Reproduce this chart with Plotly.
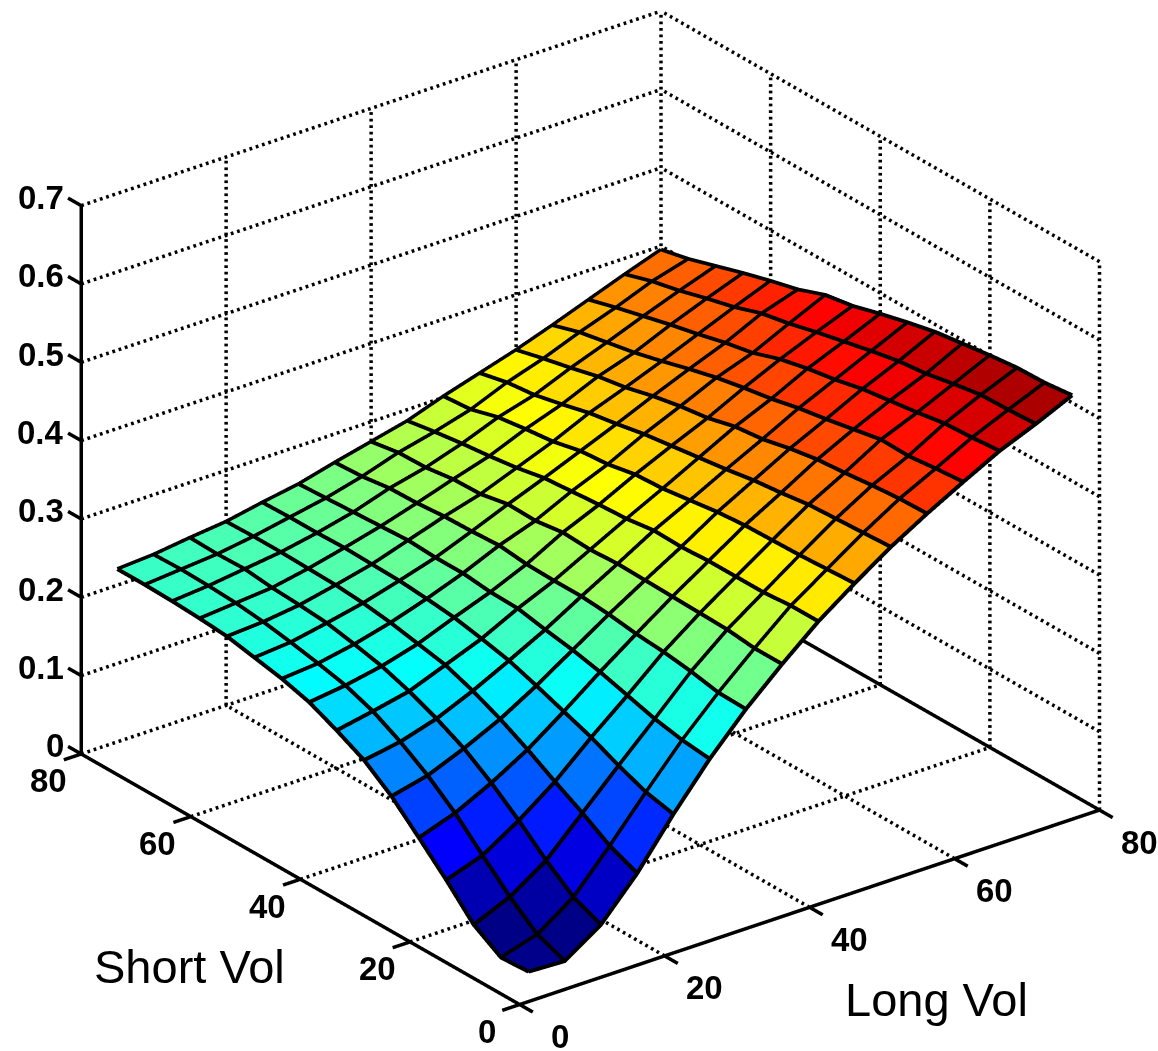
import plotly.graph_objects as go

long_vol = [5, 10, 15, 20, 25, 30, 35, 40, 45, 50, 55, 60, 65, 70, 75, 80]
short_vol = [5, 10, 15, 20, 25, 30, 35, 40, 45, 50, 55, 60, 65, 70, 75, 80]
# one row per Short Vol value, one column per Long Vol value
surface_z = [
    [.005, .003, .034, .084, .144, .199, .247, .289, .328, .361, .392, .419, .444, .468, .487, .508],
    [.003, .017, .049, .099, .152, .203, .248, .289, .328, .359, .390, .418, .441, .465, .485, .504],
    [.025, .045, .076, .121, .166, .210, .255, .293, .325, .357, .388, .415, .437, .463, .484, .503],
    [.062, .078, .107, .141, .182, .220, .260, .294, .325, .356, .386, .411, .438, .457, .478, .499],
    [.096, .112, .135, .162, .195, .230, .263, .295, .325, .355, .381, .408, .431, .452, .471, .494],
    [.129, .140, .159, .181, .208, .238, .268, .296, .323, .352, .377, .402, .424, .447, .467, .489],
    [.155, .163, .177, .197, .220, .244, .271, .297, .324, .347, .371, .394, .418, .439, .460, .481],
    [.173, .182, .192, .210, .228, .251, .271, .295, .319, .342, .366, .390, .410, .433, .452, .472],
    [.189, .195, .204, .217, .235, .252, .272, .297, .317, .340, .361, .381, .404, .425, .444, .462],
    [.199, .203, .212, .224, .239, .256, .276, .292, .314, .333, .356, .376, .397, .413, .435, .456],
    [.206, .210, .219, .229, .242, .256, .274, .293, .311, .330, .349, .369, .388, .406, .428, .443],
    [.213, .216, .222, .232, .243, .258, .273, .286, .304, .322, .343, .360, .378, .397, .416, .434],
    [.216, .220, .224, .233, .244, .256, .270, .285, .299, .318, .334, .354, .369, .389, .407, .424],
    [.218, .222, .228, .234, .243, .254, .269, .280, .295, .313, .326, .345, .362, .380, .397, .413],
    [.219, .223, .227, .234, .243, .252, .264, .279, .290, .303, .322, .337, .355, .371, .389, .402],
    [.219, .222, .228, .233, .242, .250, .262, .273, .284, .300, .314, .328, .344, .361, .378, .394],
]
xy_ticks = [0, 20, 40, 60, 80]
z_ticks = [0, 0.1, 0.2, 0.3, 0.4, 0.5, 0.6, 0.7]
x_title = "Long Vol"
y_title = "Short Vol"

XMAX, YMAX, ZMAX = 80, 80, 0.7
TICK = 2.4
X_RANGE = [-3, 82]
Y_RANGE = [-3, 83]
Z_RANGE = [-0.01, 0.71]
FONT = "Liberation Sans"
WIRE_LIFT = 0.0015


def jet(f):
    f = max(0.0, min(1.0, f))
    def band(c):
        return max(0.0, min(1.0, 1.5 - abs(4 * f - c)))
    return "rgb(%d,%d,%d)" % (round(255 * band(3)), round(255 * band(2)), round(255 * band(1)))


top = max(max(r) for r in surface_z)
nx, ny = len(long_vol), len(short_vol)

vx, vy, vz, ii, jj, kk, face = [], [], [], [], [], [], []
for j in range(ny):
    for i in range(nx):
        vx.append(long_vol[i]); vy.append(short_vol[j]); vz.append(surface_z[j][i])
for j in range(ny - 1):
    for i in range(nx - 1):
        a = j * nx + i
        b, c, d = a + 1, a + nx + 1, a + nx
        col = jet(surface_z[j][i] / top)
        ii += [a, a]; jj += [b, c]; kk += [c, d]
        face += [col, col]

fig = go.Figure()
fig.add_trace(go.Mesh3d(
    x=vx, y=vy, z=vz, i=ii, j=jj, k=kk, facecolor=face, flatshading=True,
    lighting=dict(ambient=1, diffuse=0, specular=0, roughness=1, fresnel=0),
    hoverinfo="skip", showscale=False))

# surface wire lines
wx, wy, wz = [], [], []
for j in range(ny):
    wx += long_vol + [None]; wy += [short_vol[j]] * nx + [None]
    wz += [v + WIRE_LIFT for v in surface_z[j]] + [None]
for i in range(nx):
    wx += [long_vol[i]] * ny + [None]; wy += short_vol + [None]
    wz += [surface_z[j][i] + WIRE_LIFT for j in range(ny)] + [None]
fig.add_trace(go.Scatter3d(x=wx, y=wy, z=wz, mode="lines",
                           line=dict(color="black", width=8), hoverinfo="skip"))

# dotted grid: each line is cut into short pieces, about one dot every 6.5 pixels
gx, gy, gz = [], [], []
PX_PER_X, PX_PER_Y, PX_PER_Z = 7.62, 6.37, 781.0
def seg(store, p, q):
    for s, a, b in zip(store, p, q):
        s += [a, b, None]
def dotted(p, q):
    length = (((q[0] - p[0]) * PX_PER_X) ** 2 + ((q[1] - p[1]) * PX_PER_Y) ** 2
              + ((q[2] - p[2]) * PX_PER_Z) ** 2) ** 0.5
    n = int(length / 6.5)
    for k in range(n):
        f0, f1 = k / n, (k + 0.42) / n
        seg((gx, gy, gz),
            [p[a] + (q[a] - p[a]) * f0 for a in range(3)],
            [p[a] + (q[a] - p[a]) * f1 for a in range(3)])
for t in xy_ticks:
    if t > 0:
        dotted((t, 0, 0), (t, YMAX, 0))
    if t > 0:
        dotted((0, t, 0), (XMAX, t, 0))
    if t < XMAX:
        dotted((t, YMAX, 0), (t, YMAX, ZMAX))
    dotted((XMAX, t, 0), (XMAX, t, ZMAX))
for t in z_ticks:
    if t > 0:
        dotted((0, YMAX, t), (XMAX, YMAX, t))
        dotted((XMAX, 0, t), (XMAX, YMAX, t))
fig.add_trace(go.Scatter3d(x=gx, y=gy, z=gz, mode="lines",
                           line=dict(color="black", width=7), hoverinfo="skip"))

# solid axes and ticks
ax_x, ax_y, ax_z = [], [], []
A = (ax_x, ax_y, ax_z)
seg(A, (0, 0, 0), (XMAX, 0, 0))
seg(A, (0, 0, 0), (0, YMAX, 0))
seg(A, (0, YMAX, 0), (0, YMAX, ZMAX))
seg(A, (XMAX, 0, 0), (XMAX, YMAX, 0))
for t in xy_ticks:
    seg(A, (t, 0, 0), (t, -TICK, 0))
    seg(A, (0, t, 0), (-TICK, t, 0))
for t in z_ticks:
    seg(A, (0, YMAX, t), (0, YMAX + TICK, t))
fig.add_trace(go.Scatter3d(x=ax_x, y=ax_y, z=ax_z, mode="lines",
                           line=dict(color="black", width=7), hoverinfo="skip"))

annots = []
tick_font = dict(family=FONT, size=33, color="black")
title_font = dict(family=FONT, size=47, color="black")
for t in xy_ticks:
    annots.append(dict(x=t, y=0, z=0, text="<b>%d</b>" % t, showarrow=False, font=tick_font,
                       xshift=40, yshift=-32))
    annots.append(dict(x=0, y=t, z=0, text="<b>%d</b>" % t, showarrow=False, font=tick_font,
                       xshift=-33, yshift=-27))
for t in z_ticks:
    annots.append(dict(x=0, y=YMAX, z=t, text="<b>%g</b>" % t, showarrow=False, font=tick_font,
                       xanchor="right", xshift=-15, yshift=8))
annots.append(dict(x=0, y=40, z=0, text=y_title, showarrow=False, font=title_font, xshift=-111, yshift=-87))
annots.append(dict(x=40, y=0, z=0, text=x_title, showarrow=False, font=title_font, xshift=127, yshift=-92))

hidden = dict(visible=False, showgrid=False, zeroline=False, showticklabels=False, showspikes=False)
SCALE = 1.39
CX, CY, CZ = -0.0117, 0.0089, -0.0348
fig.update_layout(
    width=1158, height=1051, margin=dict(l=0, r=0, t=0, b=0),
    paper_bgcolor="white", showlegend=False,
    scene=dict(
        domain=dict(x=[0, 1], y=[0, 1]),
        xaxis=dict(range=X_RANGE, **hidden),
        yaxis=dict(range=Y_RANGE, **hidden),
        zaxis=dict(range=Z_RANGE, **hidden),
        aspectmode="manual",
        aspectratio=dict(x=SCALE * 85 / 80, y=SCALE * 0.987 * 86 / 80, z=SCALE * 0.835 * 0.72 / 0.7),
        camera=dict(projection=dict(type="orthographic"),
                    up=dict(x=0, y=0, z=1),
                    center=dict(x=CX, y=CY, z=CZ),
                    eye=dict(x=-0.547 + CX, y=-0.714 + CY, z=0.438 + CZ)),
        annotations=annots,
        bgcolor="white",
    ),
)
fig.write_html("out.html", config=dict(displayModeBar=False),
               post_script="document.body.style.margin='0';")
